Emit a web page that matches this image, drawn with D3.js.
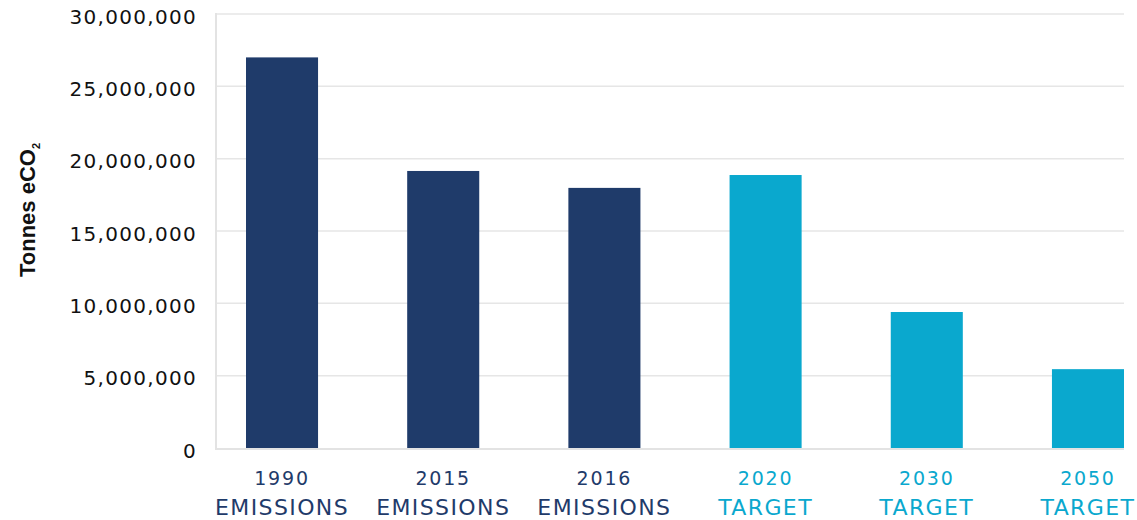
<!DOCTYPE html>
<html><head><meta charset="utf-8">
<script src="https://cdn.jsdelivr.net/npm/d3@7"></script>
<style>
html,body{margin:0;padding:0;background:#fff;}
svg{display:block;}
</style></head>
<body>
<svg id="chart" width="1137" height="520"></svg>
<script>
const years = ["1990","2015","2016","2020","2030","2050"];
const kinds = ["EMISSIONS","EMISSIONS","EMISSIONS","TARGET","TARGET","TARGET"];
const values = [27000000, 19150000, 17980000, 18870000, 9400000, 5450000];
const yTicks = [0, 5000000, 10000000, 15000000, 20000000, 25000000, 30000000];
const colors = {EMISSIONS:"#1f3b6a", TARGET:"#0aa8ce"};

const svg = d3.select("#chart");
const mLeft = 216, mRight = 1124, mTop = 14, mBottom = 448;

const y = d3.scaleLinear().domain([0, 30000000]).range([mBottom, mTop]);
const x = d3.scaleBand().domain(years).range([246, 1124]).paddingInner(0.553).paddingOuter(0);

// gridlines
svg.append("g").selectAll("line").data(yTicks.filter(d=>d>0)).join("line")
  .attr("x1", mLeft).attr("x2", mRight)
  .attr("y1", d=>y(d)).attr("y2", d=>y(d))
  .attr("stroke", "#e6e6e6").attr("stroke-width", 1.5);

// y axis
const yAxis = d3.axisLeft(y).tickValues(yTicks).tickFormat(d3.format(",")).tickSize(0).tickPadding(19);
const gy = svg.append("g").attr("transform", `translate(${mLeft},0)`).call(yAxis);
gy.select(".domain").remove();
gy.selectAll("text").attr("font-family","DejaVu Sans").attr("font-size", 20)
  .attr("letter-spacing", "1.3px").attr("fill","#111").attr("dy","0.45em");

// axis lines
svg.append("line").attr("x1", mLeft).attr("x2", mLeft).attr("y1", mTop-1).attr("y2", mBottom+1)
  .attr("stroke","#e3e3e3").attr("stroke-width",2);
svg.append("line").attr("x1", mLeft-1).attr("x2", mRight).attr("y1", mBottom+1).attr("y2", mBottom+1)
  .attr("stroke","#e3e3e3").attr("stroke-width",2);

// bars
svg.append("g").selectAll("rect").data(years).join("rect")
  .attr("x", d=>x(d)).attr("width", x.bandwidth())
  .attr("y", (d,i)=>y(values[i])).attr("height", (d,i)=>mBottom - y(values[i]))
  .attr("fill", (d,i)=>colors[kinds[i]]);

// category labels
const lab = svg.append("g").selectAll("text").data(years).join("text")
  .attr("text-anchor","middle")
  .attr("font-family","DejaVu Sans").attr("fill",(d,i)=>colors[kinds[i]]);
lab.append("tspan").attr("x", d=>x(d)+x.bandwidth()/2).attr("y", 485).attr("font-size",19)
  .attr("letter-spacing","1.8px").text(d=>d);
lab.append("tspan").attr("x", d=>x(d)+x.bandwidth()/2).attr("y", 515).attr("font-size",22)
  .attr("letter-spacing","1.4px").text((d,i)=>kinds[i]);

// y title
const t = svg.append("text").attr("transform","translate(35,210) rotate(-90)")
  .attr("text-anchor","middle").attr("font-family","Liberation Sans, Arial").attr("font-weight","bold")
  .attr("font-size",22).attr("fill","#111");
t.append("tspan").text("Tonnes eCO");
t.append("tspan").attr("font-size",11).attr("dy",5).text("2");
</script>
</body></html>
